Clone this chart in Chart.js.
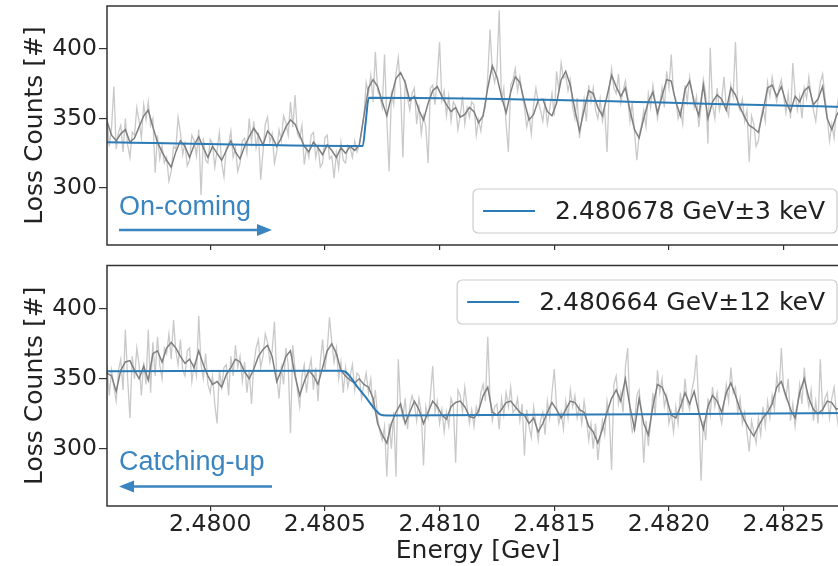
<!DOCTYPE html>
<html>
<head>
<meta charset="utf-8">
<script src="https://cdn.jsdelivr.net/npm/chart.js@4.4.1/dist/chart.umd.min.js"></script>
<style>
  html, body { margin: 0; padding: 0; background: #fff; overflow: hidden; }
  #wrap { position: relative; width: 838px; height: 566px; overflow: hidden; }
  #wrap canvas { position: absolute; left: 0; }
  #topPanel { top: 0; }
  #bottomPanel { top: 260px; }
</style>
</head>
<body>
<div id="wrap">
  <canvas id="topPanel" width="860" height="255"></canvas>
  <canvas id="bottomPanel" width="860" height="306"></canvas>
</div>
<script>
// energy grid of the scans (GeV)
const energyStart = 2.47955;
const rawStep = 0.00001;
const smoothStep = 0.00002;
const energyMin = 2.47955;
const energyMax = 2.482785;
const energyTicks = [2.4800, 2.4805, 2.4810, 2.4815, 2.4820, 2.4825];
const countTicks = [300, 350, 400];

// on-coming scan: raw loss counts and running average
const rawTop = [
  352,330,344,373,328,340,345,326,350,331,322,340,338,358,348,336,360,349,362,345,
  350,311,338,321,330,318,322,305,312,330,328,351,340,324,332,316,320,338,334,323,
  342,295,336,320,318,335,332,315,327,340,318,308,329,331,341,322,329,312,318,334,
  336,325,350,333,348,329,340,306,326,346,351,333,339,318,326,342,334,352,347,338,
  362,344,367,339,336,345,317,329,322,338,340,322,330,315,318,336,338,321,323,307,
  325,314,333,320,318,331,329,322,334,326,331,340,352,376,368,381,362,398,370,366,
  358,396,349,312,368,360,382,394,371,322,378,365,356,368,372,346,360,339,352,344,
  318,372,374,360,380,405,363,370,352,366,348,362,359,342,352,366,346,358,351,362,
  360,338,349,341,354,358,380,414,384,376,386,428,362,372,346,326,374,378,386,370,
  380,368,358,344,352,339,360,372,362,356,348,362,346,357,368,352,384,370,390,379,
  381,370,378,358,350,365,336,350,364,348,374,362,372,356,350,364,348,356,326,372,
  386,372,368,382,361,370,377,366,348,362,340,320,338,345,356,344,368,358,374,362,
  350,360,372,358,384,372,396,368,364,350,356,346,374,362,380,370,358,366,344,358,
  378,368,332,401,360,350,372,356,364,380,358,352,374,366,405,360,356,364,348,356,
  319,352,346,330,334,350,358,348,376,366,380,370,362,372,378,366,354,368,350,390,
  368,356,366,350,372,364,380,366,356,348,364,376,382,366,352,334,346,336,356,366,
  360
];
const smoothTop = [
  348,338,334,339,342,333,336,344,352,356,
  344,333,326,320,315,326,334,330,322,331,
  337,329,322,330,325,320,327,334,326,321,
  330,337,343,338,331,341,337,330,336,344,
  349,346,338,330,326,333,329,324,331,327,
  322,329,325,330,327,331,352,372,378,373,
  362,352,366,379,383,376,363,366,356,349,
  361,370,373,366,360,355,358,351,353,358,
  355,347,352,372,388,380,366,354,369,380,
  376,362,349,353,363,364,355,352,361,378,
  384,374,356,341,356,370,368,358,352,366,
  381,373,366,372,356,342,336,350,362,369,
  354,366,378,377,362,352,371,377,362,352,
  374,350,362,367,364,356,372,367,358,351,
  345,343,340,355,372,374,366,373,362,355,
  366,362,370,373,360,364,373,350,342,352,
  358
];

// catching-up scan: raw loss counts and running average
const rawBottom = [
  360,338,356,344,334,356,364,342,385,350,322,366,350,372,360,338,362,346,385,340,
  376,352,380,360,350,372,368,382,364,392,370,360,378,356,352,370,372,348,360,352,
  395,360,350,368,346,340,352,332,318,356,344,358,360,338,366,352,374,358,366,348,
  362,340,356,332,360,372,378,358,366,382,376,362,370,391,352,336,358,346,372,360,
  311,374,356,342,330,352,360,340,356,364,342,358,334,362,378,356,370,394,376,362,
  372,350,362,340,358,344,352,360,342,354,352,336,346,354,340,350,328,342,322,312,
  306,316,280,318,300,326,280,364,330,322,336,314,330,338,332,320,336,326,288,330,
  322,338,359,326,334,318,328,312,326,316,336,330,290,342,338,326,344,330,318,328,
  316,330,324,340,346,334,380,336,320,330,332,314,336,324,340,330,344,326,328,336,
  320,332,295,328,316,308,330,318,306,320,326,310,334,322,340,357,330,318,326,314,
  334,322,342,330,338,322,330,318,334,322,306,318,300,318,292,308,320,310,334,322,
  285,346,352,332,340,326,358,372,326,312,318,338,342,326,290,320,302,318,340,324,
  356,340,350,330,338,318,326,312,330,318,340,326,350,334,328,342,350,367,330,277,
  320,306,336,324,344,330,340,326,318,332,346,334,358,340,344,326,336,318,326,312,
  298,320,312,304,322,310,330,316,334,322,338,328,352,340,372,342,336,350,320,332,
  316,330,346,332,358,340,330,342,320,334,318,364,326,336,340,322,336,344,326,314,
  332
];
const smoothBottom = [
  354,352,341,356,362,363,356,350,359,349,
  368,370,362,372,376,372,366,361,364,358,
  370,360,352,346,348,344,353,358,364,362,
  355,350,357,366,371,374,366,348,356,366,
  370,352,338,348,356,352,346,358,370,375,
  368,356,352,349,347,350,346,344,336,318,
  310,304,318,326,332,318,326,334,328,318,
  326,334,330,324,321,330,333,334,330,323,
  322,327,338,344,326,324,328,333,334,330,
  326,324,318,322,312,318,326,333,328,322,
  328,334,333,328,326,316,312,304,314,326,
  336,342,334,350,330,314,336,318,310,330,
  346,344,336,324,322,330,340,332,341,326,
  314,330,338,334,326,340,347,338,328,320,
  314,309,316,322,326,332,344,348,338,328,
  322,340,350,336,328,325,328,334,333,328,
  330
];

// step fits, centred on the fitted edge energy
const fitCentreTop = 2.480678;
const fitCentreBottom = 2.480664;
const fitTopEnergy = [2.47955, 2.480665, fitCentreTop, 2.480691, 2.482785];
const fitTopCounts = [333.0, 330.3, 347.6, 365.0, 358.4];
const fitBottomEnergy = [2.47955, 2.48056, 2.48059, 2.48061, 2.48064, fitCentreBottom, 2.48069, 2.48072, 2.48074, 2.48077, 2.482785];
const fitBottomCounts = [355.3, 355.8, 355.0, 351.5, 344.5, 339.8, 334.2, 327.8, 324.6, 323.8, 325.6];
const fitLabelTop = fitCentreTop.toFixed(6) + ' GeV\u00b13 keV';
const fitLabelBottom = fitCentreBottom.toFixed(6) + ' GeV\u00b112 keV';

const FONT = 'DejaVu Sans';
const INK = '#222';
const BLUE = '#2c7bb6';

function gridPoints(values, step) {
  return values.map((y, j) => ({ x: energyStart + j * step, y: y }));
}
function pairPoints(xs, ys) {
  return xs.map((x, k) => ({ x: x, y: ys[k] }));
}

// frame, legend box and scan-direction arrow
const panelDecor = {
  id: 'panelDecor',
  afterDatasetsDraw(chart, args, opts) {
    const ctx = chart.ctx;
    const a = chart.chartArea;
    ctx.save();

    // direction note
    ctx.fillStyle = '#3a84c0';
    ctx.strokeStyle = '#3a84c0';
    ctx.font = '27px "Liberation Sans", Arial, sans-serif';
    ctx.textBaseline = 'alphabetic';
    ctx.textAlign = 'left';
    ctx.fillText(opts.note, a.left + 12, a.bottom - opts.noteUp);
    const ay = a.bottom - opts.arrowUp;
    const x0 = a.left + 12, x1 = a.left + 165;
    const tip = opts.dir > 0 ? x1 : x0;
    const back = tip - opts.dir * 15;
    ctx.lineWidth = 2.5;
    ctx.beginPath();
    ctx.moveTo(opts.dir > 0 ? x0 : x1, ay);
    ctx.lineTo(back, ay);
    ctx.stroke();
    ctx.beginPath();
    ctx.moveTo(tip, ay);
    ctx.lineTo(back, ay - 6);
    ctx.lineTo(back, ay + 6);
    ctx.closePath();
    ctx.fill();

    // legend
    const ds = chart.data.datasets[0];
    ctx.font = '25px "' + FONT + '"';
    const tw = ctx.measureText(ds.label).width;
    const bw = 82 + tw + 12, bh = 44;
    const bx = a.right - 12 - bw;
    const by = opts.legendLow ? a.bottom - 12 - bh : a.top + 14.5;
    ctx.beginPath();
    ctx.roundRect(bx, by, bw, bh, 5);
    ctx.fillStyle = 'rgba(255,255,255,0.8)';
    ctx.fill();
    ctx.strokeStyle = '#cccccc';
    ctx.lineWidth = 1.2;
    ctx.stroke();
    ctx.strokeStyle = ds.borderColor;
    ctx.lineWidth = 2;
    ctx.beginPath();
    ctx.moveTo(bx + 10, by + bh / 2);
    ctx.lineTo(bx + 62, by + bh / 2);
    ctx.stroke();
    ctx.fillStyle = INK;
    ctx.textBaseline = 'middle';
    ctx.fillText(ds.label, bx + 82, by + bh / 2 + 1);

    // axes frame
    ctx.strokeStyle = '#333';
    ctx.lineWidth = 1.5;
    ctx.strokeRect(a.left, a.top, a.right - a.left, a.bottom - a.top);
    ctx.restore();
  }
};

function makePanel(canvasId, fitLabel, fitPts, smooth, raw, showX, decor, padTop) {
  return new Chart(document.getElementById(canvasId), {
    type: 'line',
    data: {
      datasets: [
        { label: fitLabel, data: fitPts, borderColor: BLUE, borderWidth: 2,
          pointRadius: 0, order: 0, cubicInterpolationMode: 'monotone' },
        { label: 'average', data: gridPoints(smooth, smoothStep), borderColor: '#7f7f7f',
          borderWidth: 1.5, pointRadius: 0, order: 1 },
        { label: 'raw', data: gridPoints(raw, rawStep), borderColor: '#c9c9c9',
          borderWidth: 1.3, pointRadius: 0, order: 2 }
      ]
    },
    options: {
      responsive: false,
      animation: false,
      events: [],
      layout: { padding: { top: padTop, right: 11, left: 0, bottom: 0 } },
      plugins: { legend: { display: false }, tooltip: { enabled: false }, panelDecor: decor },
      scales: {
        x: {
          type: 'linear', min: energyMin, max: energyMax,
          afterBuildTicks: s => { s.ticks = energyTicks.map(v => ({ value: v })); },
          afterFit: s => { s.height = showX ? 60 : 10; s.paddingLeft = 0; s.paddingRight = 0; },
          border: { display: false },
          grid: { drawOnChartArea: false, drawTicks: true, tickLength: 5, color: '#333', lineWidth: 1.2 },
          ticks: { display: showX, padding: 0, color: INK, autoSkip: false, maxRotation: 0, minRotation: 0,
                   font: { family: FONT, size: 23.5 }, callback: v => Number(v).toFixed(4) },
          title: { display: showX, text: 'Energy [Gev]', color: INK, padding: 0,
                   font: { family: FONT, size: 25 } }
        },
        y: {
          min: 259, max: 431,
          afterBuildTicks: s => { s.ticks = countTicks.map(v => ({ value: v })); },
          afterFit: s => { s.width = 107; s.paddingTop = 0; s.paddingBottom = 0; },
          border: { display: false },
          grid: { drawOnChartArea: false, drawTicks: true, tickLength: 8, color: '#333', lineWidth: 1.2 },
          ticks: { padding: 2, color: INK, font: { family: FONT, size: 23.5 } },
          title: { display: true, text: 'Loss Counts [#]', color: INK, padding: { top: 20, bottom: 0 },
                   font: { family: FONT, size: 25 } }
        }
      }
    },
    plugins: [panelDecor]
  });
}

makePanel('topPanel', fitLabelTop, pairPoints(fitTopEnergy, fitTopCounts), smoothTop, rawTop, false,
  { note: 'On-coming', dir: 1, noteUp: 30, arrowUp: 15, legendLow: true }, 6);
makePanel('bottomPanel', fitLabelBottom, pairPoints(fitBottomEnergy, fitBottomCounts), smoothBottom, rawBottom, true,
  { note: 'Catching-up', dir: -1, noteUp: 36, arrowUp: 19.5, legendLow: false }, 5.5);
</script>
</body>
</html>
